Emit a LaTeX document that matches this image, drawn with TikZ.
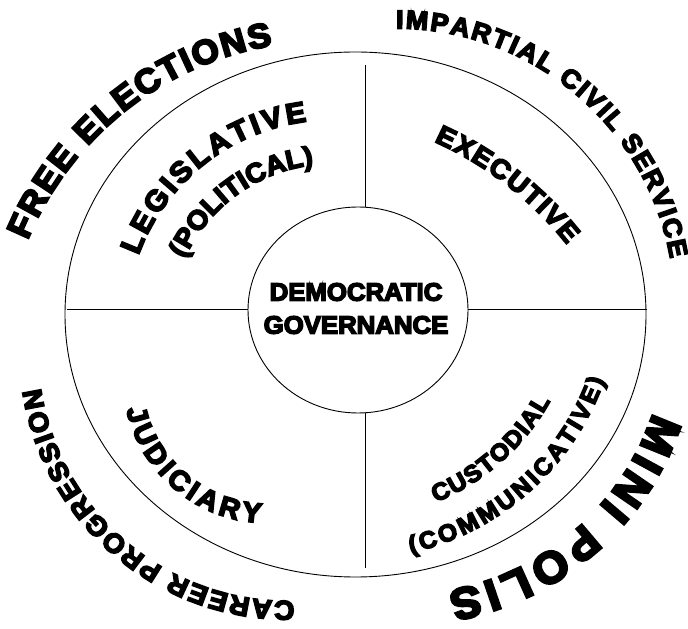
\documentclass[tikz,border=0pt]{standalone}
\usepackage{fontspec}
\newfontfamily\heavy{Liberation Sans}[BoldFeatures={FakeBold=6,FakeStretch=1.03}]
\usetikzlibrary{decorations.text,shapes.geometric}
\tikzset{
  arctext/.style 2 args={decorate, decoration={text along path, text align=fit to path, text={|\fontsize{#1}{#1}\heavy\bfseries|#2}}},
  rim/.style={draw, line width=0.9pt},
  divider/.style={line width=0.9pt},
}
\begin{document}
\begin{tikzpicture}[x=1pt,y=1pt]
\useasboundingbox (0,0) rectangle (688,629);
% outer ellipse
\draw[rim] (355.5,314.5) ellipse [x radius=290.5, y radius=262.5];
% inner circle
\node[rim, ellipse, minimum width=220pt, minimum height=206pt, inner sep=0pt, outer sep=0pt] (core) at (358,319) {};
\node[font=\fontsize{25}{33}\heavy\bfseries, align=center] (title) at (356,320.5) {DEMOCRATIC\\GOVERNANCE};
% dividers
\coordinate (vt) at (365,564);
\coordinate (vb) at (365,61);
\coordinate (hl) at (67,320);
\coordinate (hr) at (647,320);
\draw[divider] (vt) -- (vt |- core.north);
\draw[divider] (vb) -- (vb |- core.south);
\draw[divider] (hl) -- (hl -| core.west);
\draw[divider] (hr) -- (hr -| core.east);
% outer texts
\path[arctext={34}{FREE ELECTIONS}] (326,265) ++(157.5:323) arc[start angle=157.5, end angle=99.5, radius=323];
\path[arctext={26}{IMPARTIAL CIVIL SERVICE}] (396,322) ++(90:278.5) arc[start angle=90, end angle=10, radius=278.5];
\path[arctext={44}{MINI POLIS}] (402,298) ++(-18:264) arc[start angle=-18, end angle=-80, radius=264];
\path[arctext={27}{CAREER PROGRESSION}] (288,278) ++(271.5:250) arc[start angle=271.5, end angle=188.5, radius=250];
% quadrant texts
\path[arctext={29}{LEGISLATIVE}] (332,303) ++(160:206) arc[start angle=160, end angle=97, radius=206];
\path[arctext={27}{(POLITICAL)}] (332,303) ++(155.5:162) arc[start angle=155.5, end angle=96.5, radius=162];
\path[arctext={27}{EXECUTIVE}] (290,164) ++(66:354) arc[start angle=66, end angle=38.5, radius=354];
\path[arctext={28}{JUDICIARY}] (268,251) ++(192.5:145) arc[start angle=192.5, end angle=267, radius=145];
\path[arctext={24}{CUSTODIAL}] (350,339) ++(-68:229) arc[start angle=-68, end angle=-29, radius=229];
\path[arctext={24}{(COMMUNICATIVE)}] (350,339) ++(-77:270) arc[start angle=-77, end angle=-19.5, radius=270];
\end{tikzpicture}
\end{document}
